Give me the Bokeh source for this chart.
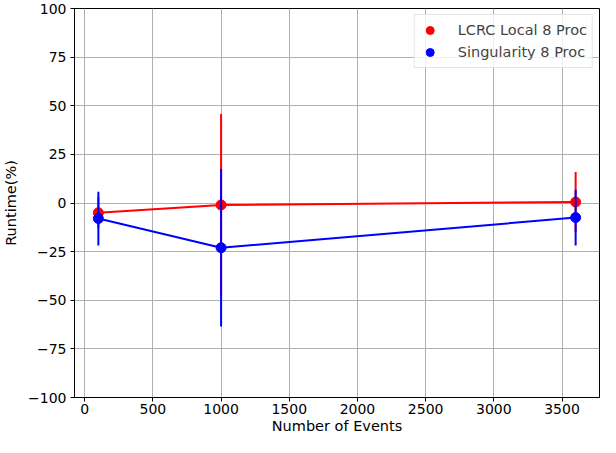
from bokeh.plotting import figure
from bokeh.models import FixedTicker, CustomJSTickFormatter, Legend, LegendItem, ColumnDataSource
from bokeh.embed import file_html
from bokeh.resources import INLINE
import numpy as np

events = [100, 1000, 3600]
lcrc_vals = [-5.0, -1.0, 0.5]
lcrc_err = [8.0, 46.8, 15.5]
sing_vals = [-8.0, -23.0, -7.5]
sing_err = [13.8, 40.5, 14.3]
y_ticks = [-100, -75, -50, -25, 0, 25, 50, 75, 100]
x_ticks = [0, 500, 1000, 1500, 2000, 2500, 3000, 3500]

FONT = "DejaVu Sans"

p = figure(width=600, height=437, output_backend="svg", toolbar_location=None,
           x_range=(-75, 3775), y_range=(-100, 100),
           min_border_left=74, min_border_right=1, min_border_top=8, min_border_bottom=40)

p.outline_line_color = "black"
p.outline_line_width = 1
p.xgrid.grid_line_color = "#b0b0b0"
p.ygrid.grid_line_color = "#b0b0b0"
p.xgrid.grid_line_width = 1
p.ygrid.grid_line_width = 1

neg = CustomJSTickFormatter(code="return tick < 0 ? '\\u2212' + Math.abs(tick) : tick.toString();")
p.yaxis.ticker = FixedTicker(ticks=y_ticks)
p.xaxis.ticker = FixedTicker(ticks=x_ticks)
p.yaxis.formatter = neg
for ax in (p.xaxis, p.yaxis):
    ax.axis_line_color = "black"
    ax.major_tick_line_color = "black"
    ax.major_tick_out = 4
    ax.major_tick_in = 0
    ax.minor_tick_line_color = None
    ax.major_label_text_font = FONT
    ax.major_label_text_font_size = "14px"
    ax.major_label_text_color = "black"
    ax.axis_label_text_font = FONT
    ax.axis_label_text_font_size = "14.5px"
    ax.axis_label_text_font_style = "normal"
    ax.axis_label_text_color = "black"
p.xaxis.axis_label = "Number of Events"
p.yaxis.axis_label = "Runtime(%)"
p.xaxis.major_label_standoff = 2
p.yaxis.major_label_standoff = 4
p.xaxis.axis_label_standoff = 1
p.yaxis.axis_label_standoff = 6

items = []
for vals, errs, col, lab in [(lcrc_vals, lcrc_err, "red", "LCRC Local 8 Proc"),
                             (sing_vals, sing_err, "blue", "Singularity 8 Proc")]:
    v = np.array(vals)
    e = np.array(errs)
    src = ColumnDataSource(dict(x=events, y=vals, lo=list(v - e), hi=list(v + e)))
    p.line("x", "y", source=src, line_color=col, line_width=2)
    p.segment(x0="x", y0="lo", x1="x", y1="hi", source=src, line_color=col, line_width=2)
    r = p.scatter("x", "y", source=src, size=10, fill_color=col, line_color=col)
    items.append(LegendItem(label=lab, renderers=[r]))

legend = Legend(items=items, location="top_right")
legend.label_text_font = FONT
legend.label_text_font_size = "14.5px"
legend.border_line_color = "#cccccc"
legend.border_line_width = 1
legend.background_fill_alpha = 0.8
legend.margin = 6
legend.padding = 5
legend.spacing = 2
legend.label_standoff = 18
legend.glyph_width = 20
legend.glyph_height = 20
p.add_layout(legend)

open("out.html", "w").write(file_html(p, INLINE))
